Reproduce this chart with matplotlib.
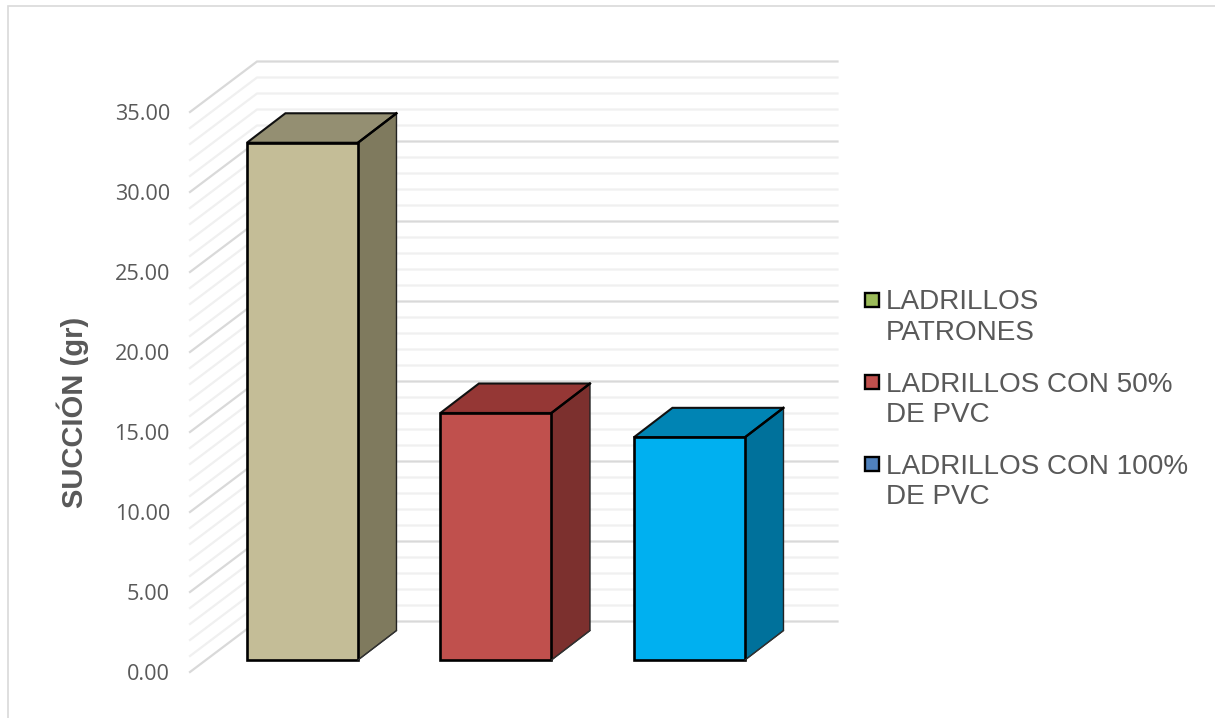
import matplotlib
matplotlib.use('Agg')
import matplotlib.pyplot as plt
from matplotlib.patches import Rectangle

# data
categorias = ['LADRILLOS PATRONES', 'LADRILLOS CON 50% DE PVC', 'LADRILLOS CON 100% DE PVC']
valores = [32.33, 15.44, 13.92]
leyenda = [['LADRILLOS', 'PATRONES'], ['LADRILLOS CON 50%', 'DE PVC'], ['LADRILLOS CON 100%', 'DE PVC']]
ticks = [0, 5, 10, 15, 20, 25, 30, 35]

# colours
frente = ['#C4BD97', '#C0504D', '#00B0F0']
arriba = ['#948F72', '#953735', '#0084B4']
lado = ['#7F7A5E', '#7C302E', '#00719B']
swatch = ['#9BBB59', '#C0504D', '#4F81BD']
gris = '#595959'

W, H = 1215, 718
fig = plt.figure(figsize=(W / 100, H / 100), dpi=100)
# axes = front plane of the 3D box, pixels
ax = fig.add_axes([190 / W, (H - 672) / H, 580.5 / W, 560 / H])
ax.set_xlim(-0.5, 2.5)
ax.set_ylim(0, 35)
ax.patch.set_visible(False)

# oblique offsets in data units
wall_dx, wall_dy = 67 / 193.5, 3.156
base_dx, base_dy = 15.7 / 193.5, 0.75
bar_dx, bar_dy = 38.5 / 193.5, 1.84
ancho = 0.574

# fondo: grid on side wall and back wall
for v in range(0, 36):
    color = '#D9D9D9' if v % 5 == 0 else '#F0F0F0'
    ax.plot([-0.5, -0.5 + wall_dx, 2.5 + wall_dx], [v, v + wall_dy, v + wall_dy],
            color=color, lw=1.6, clip_on=False, zorder=1, solid_joinstyle='miter')

# barras
for i, v in enumerate(valores):
    x0 = i + base_dx - ancho / 2
    x1 = x0 + ancho
    y0 = base_dy
    y1 = base_dy + v
    ax.fill([x1, x1 + bar_dx, x1 + bar_dx, x1], [y0, y0 + bar_dy, y1 + bar_dy, y1],
            facecolor=lado[i], edgecolor='#222222', lw=1.0, clip_on=False, zorder=3)
    ax.fill([x0, x0 + bar_dx, x1 + bar_dx, x1], [y1, y1 + bar_dy, y1 + bar_dy, y1],
            facecolor=arriba[i], edgecolor='#111111', lw=1.5, clip_on=False, zorder=3)
    ax.bar(i + base_dx, v, width=ancho, bottom=y0, color=frente[i], edgecolor='black',
           lw=1.9, clip_on=False, zorder=4)
    ax.plot([x1, x1 + bar_dx], [y1, y1 + bar_dy], color='black', lw=1.7, clip_on=False, zorder=5)
    ax.plot([x1, x1 + bar_dx], [y0, y0 + bar_dy], color='#333333', lw=0.8, clip_on=False, zorder=5)

# ejes
for s in ax.spines.values():
    s.set_visible(False)
ax.set_xticks([])
ax.set_yticks(ticks)
ax.set_yticklabels([f'{t:.2f}' for t in ticks], family='Open Sans', fontsize=15.6, color=gris,
                   va='center_baseline')
ax.tick_params(axis='y', length=0, pad=14.5)

fig.text(73 / W, 1 - 412 / H, 'SUCCIÓN (gr)', rotation=90, ha='center', va='center',
         family='Liberation Sans', weight='bold', fontsize=21, color=gris)

# leyenda
for i, lineas in enumerate(leyenda):
    y = 299.5 + 82 * i
    fig.add_artist(Rectangle((865 / W, 1 - (y + 7) / H), 14 / W, 14 / H, transform=fig.transFigure,
                             facecolor=swatch[i], edgecolor='black', lw=1.7))
    for j, txt in enumerate(lineas):
        fig.text(886 / W, 1 - (y + 31 * j) / H, txt, ha='left', va='center_baseline',
                 family='Liberation Sans', fontsize=20.1, color=gris)

# marco
fig.add_artist(Rectangle((7.5 / W, -0.1), 1.2, 1.1 - 5.5 / H, transform=fig.transFigure,
                         fill=False, edgecolor='#D9D9D9', lw=1.2))

fig.savefig('out.png', dpi=100)
